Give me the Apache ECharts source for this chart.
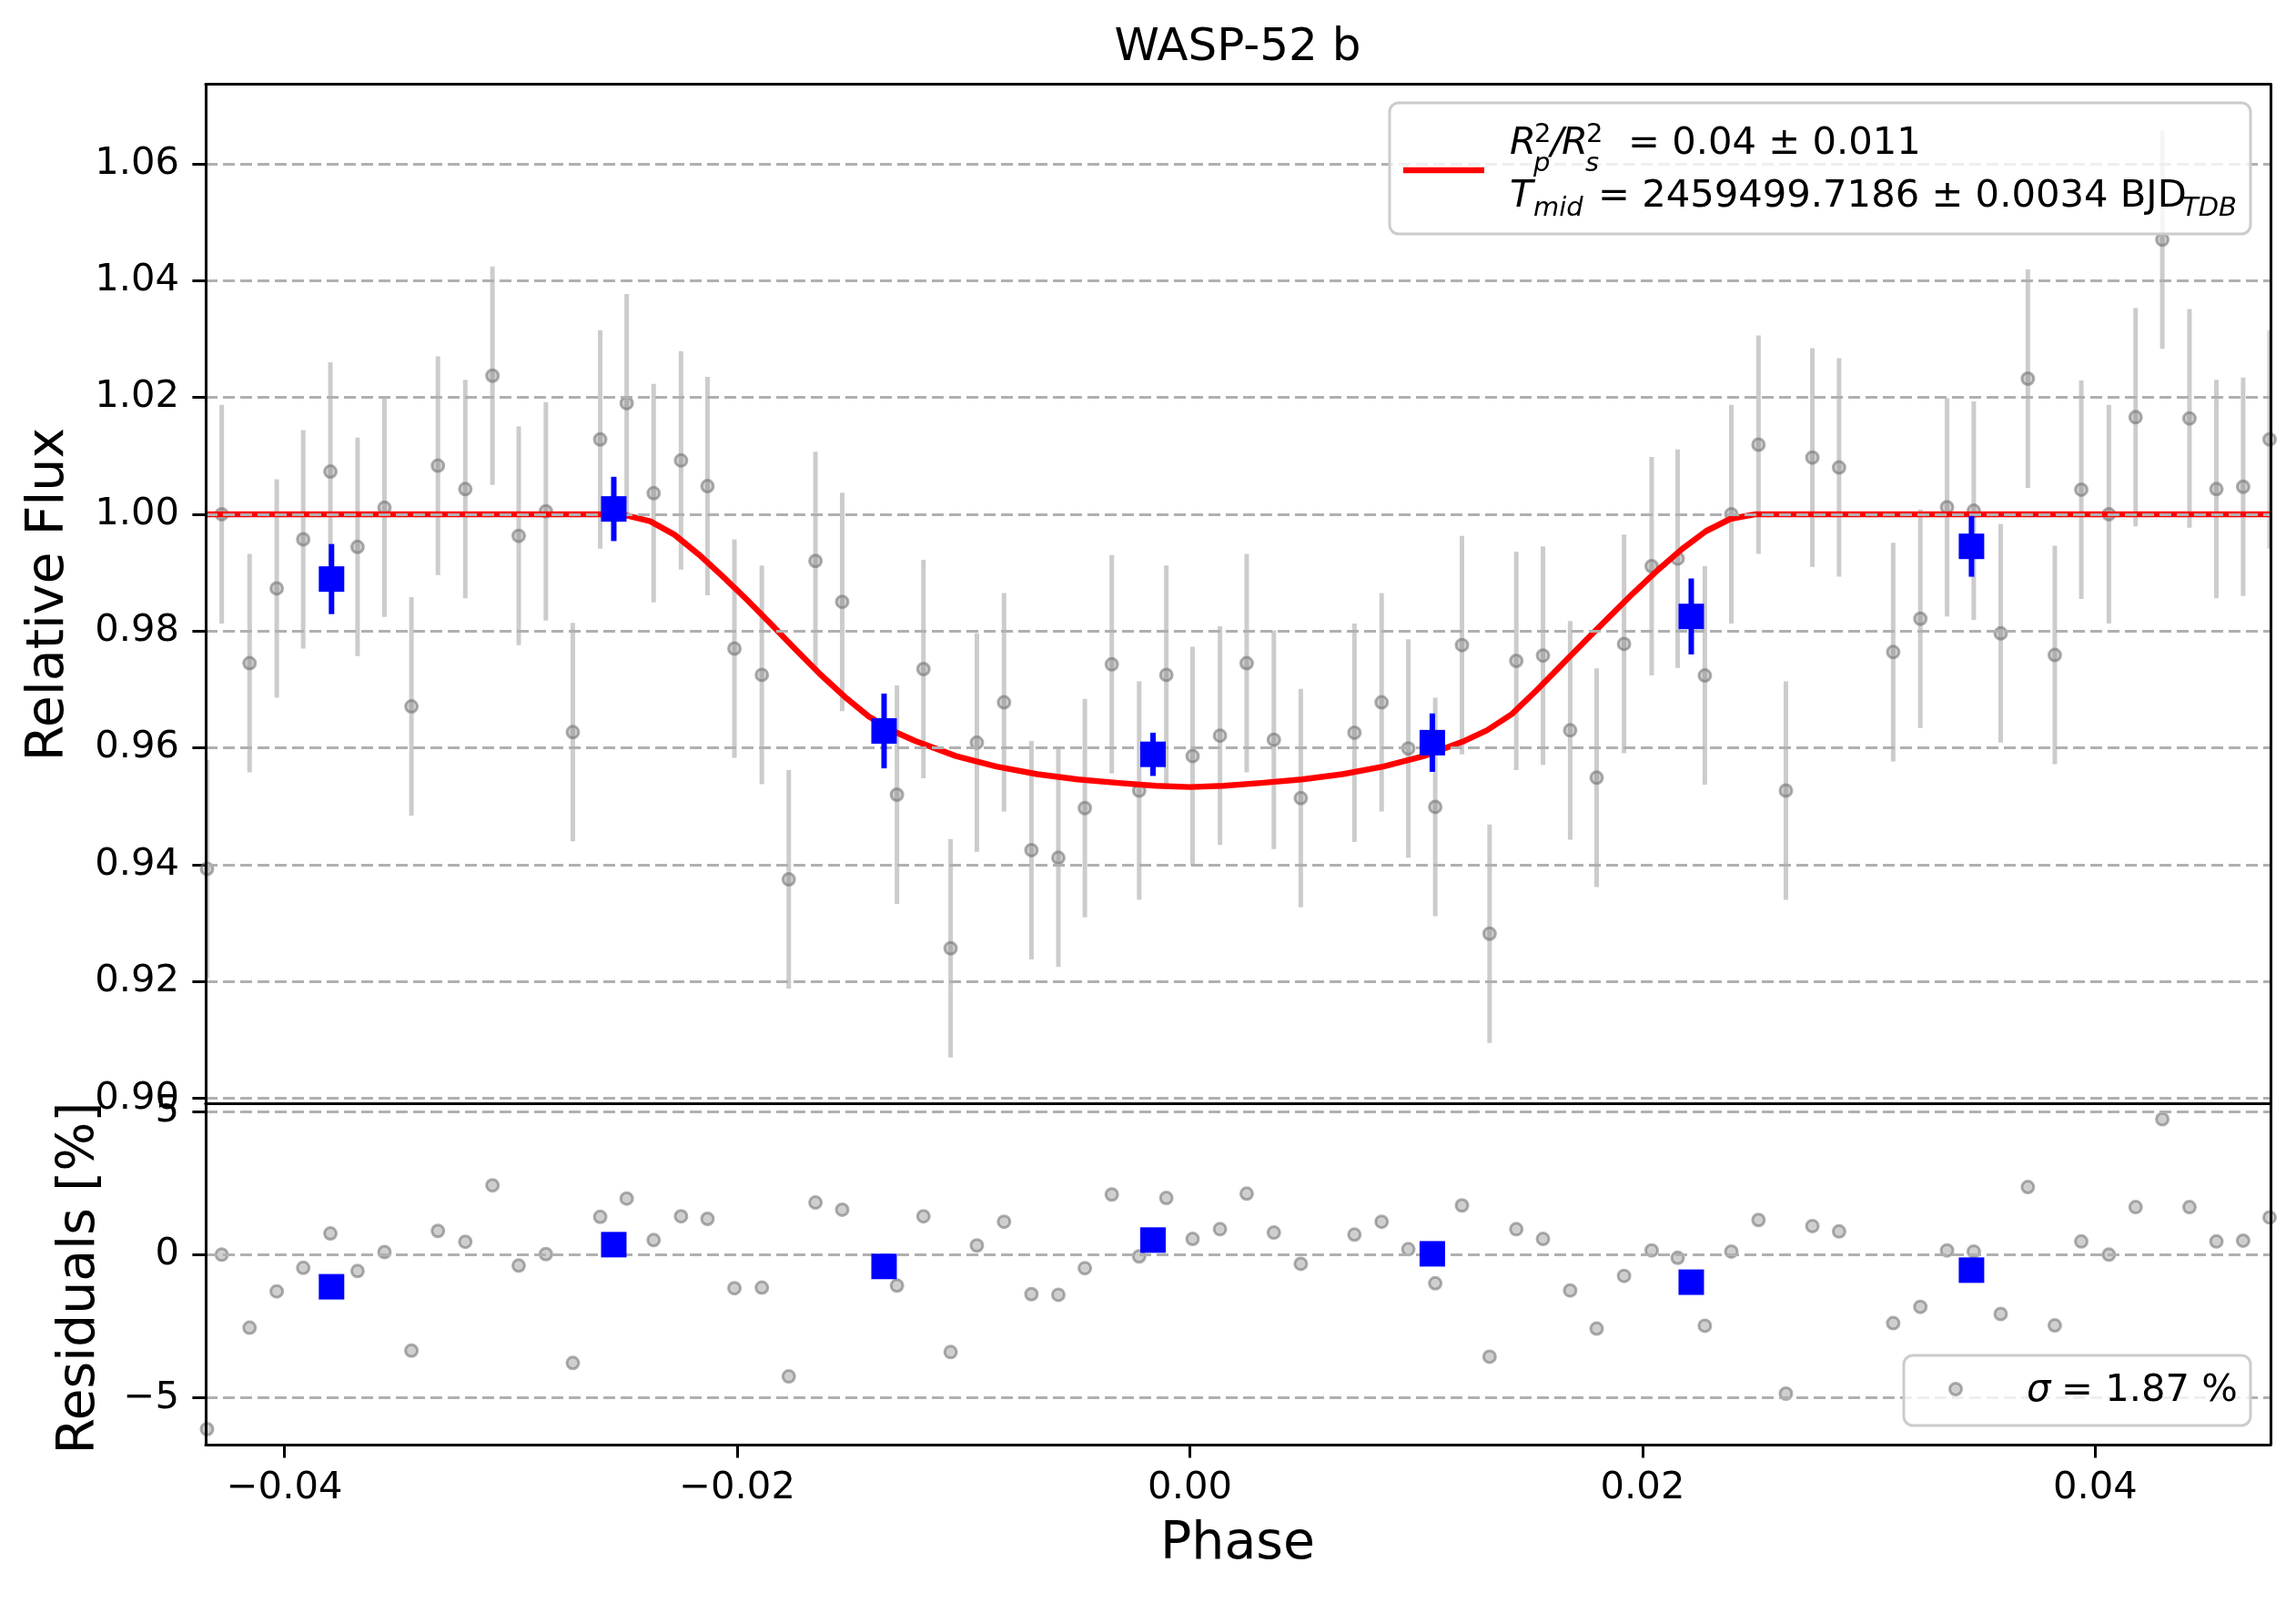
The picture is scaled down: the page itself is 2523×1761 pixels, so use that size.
<!DOCTYPE html>
<html>
<head>
<meta charset="utf-8">
<script src="https://cdn.jsdelivr.net/npm/echarts@6/dist/echarts.min.js"></script>
<style>
  html, body { margin: 0; padding: 0; background: #fff; }
  #main { width: 2523px; height: 1761px; }
</style>
</head>
<body>
<div id="main"></div>
<script>
// phase of each unbinned exposure
var phase = [-0.04342, -0.04277, -0.04154, -0.04034, -0.03917, -0.03797, -0.03677, -0.03558, -0.03439, -0.03322,
  -0.03201, -0.03081, -0.02965, -0.02845, -0.02726, -0.02605, -0.02488, -0.02369, -0.02248, -0.02131,
  -0.02012, -0.01891, -0.01772, -0.01654, -0.01536, -0.01294, -0.01177, -0.01057, -0.00941, -0.00821,
  -0.00700, -0.00581, -0.00464, -0.00345, -0.00224, -0.00104, 0.00012, 0.00133, 0.00251, 0.00371,
  0.00490, 0.00727, 0.00847, 0.00965, 0.01084, 0.01202, 0.01324, 0.01442, 0.01560, 0.01680,
  0.01797, 0.01918, 0.02040, 0.02155, 0.02275, 0.02392, 0.02512, 0.02633, 0.02750, 0.02868,
  0.03107, 0.03227, 0.03345, 0.03463, 0.03582, 0.03702, 0.03821, 0.03938, 0.04060, 0.04178,
  0.04296, 0.04416, 0.04535, 0.04653, 0.04770];
var flux = [0.9393, 1.0000, 0.9745, 0.9873, 0.9957, 1.0073, 0.9944, 1.0011, 0.9671, 1.0083,
  1.0043, 1.0237, 0.9963, 1.0005, 0.9627, 1.0128, 1.0190, 1.0036, 1.0092, 1.0048,
  0.9770, 0.9725, 0.9375, 0.9920, 0.9850, 0.9520, 0.9735, 0.9257, 0.9609, 0.9678,
  0.9425, 0.9412, 0.9497, 0.9743, 0.9527, 0.9725, 0.9586, 0.9621, 0.9745, 0.9614,
  0.9514, 0.9626, 0.9678, 0.9599, 0.9499, 0.9776, 0.9282, 0.9749, 0.9758, 0.9630,
  0.9549, 0.9778, 0.9911, 0.9924, 0.9724, 1.0000, 1.0119, 0.9527, 1.0097, 1.0080,
  0.9764, 0.9821, 1.0012, 1.0006, 0.9796, 1.0232, 0.9759, 1.0042, 1.0000, 1.0166,
  1.0470, 1.0164, 1.0043, 1.0047, 1.0128];
var fluxErr = 0.0187;
var resid = [-6.09, 0.00, -2.55, -1.28, -0.46, 0.74, -0.57, 0.09, -3.35, 0.83,
  0.45, 2.42, -0.38, 0.02, -3.78, 1.32, 1.96, 0.51, 1.34, 1.25,
  -1.17, -1.15, -4.25, 1.82, 1.57, -1.08, 1.34, -3.40, 0.32, 1.15,
  -1.38, -1.40, -0.47, 2.10, -0.06, 1.98, 0.55, 0.89, 2.13, 0.77,
  -0.32, 0.70, 1.15, 0.19, -1.00, 1.72, -3.56, 0.89, 0.55, -1.25,
  -2.58, -0.74, 0.15, -0.11, -2.48, 0.11, 1.21, -4.85, 1.00, 0.81,
  -2.39, -1.82, 0.15, 0.11, -2.07, 2.36, -2.47, 0.46, 0.00, 1.66,
  4.73, 1.66, 0.46, 0.49, 1.30];

// binned points
var binPhase = [-0.03792, -0.02545, -0.01351, -0.00163, 0.01071, 0.02215, 0.03453];
var binFlux = [0.9889, 1.0009, 0.9629, 0.9589, 0.9609, 0.9825, 0.9945];
var binErr = [0.0060, 0.0055, 0.0064, 0.0037, 0.0050, 0.0065, 0.0052];
var binResid = [-1.12, 0.35, -0.41, 0.51, 0.03, -0.96, -0.54];

// transit model
var modelPhase = [-0.04348, -0.0258, -0.02491, -0.02384, -0.02277, -0.02169, -0.02062, -0.01955, -0.01848, -0.01741,
  -0.01633, -0.01526, -0.01419, -0.01312, -0.01213, -0.01033, -0.00854, -0.00674, -0.00495, -0.00315,
  -0.0015, 0, 0.0015, 0.00315, 0.00495, 0.00674, 0.00854, 0.01033, 0.01213, 0.01312,
  0.01423, 0.0153, 0.01637, 0.01744, 0.01852, 0.01959, 0.02066, 0.02173, 0.0228, 0.02388,
  0.0250, 0.04774];
var modelFlux = [1.0, 1.0, 0.9998, 0.9988, 0.9965, 0.9931, 0.9893, 0.9853, 0.9811, 0.9768,
  0.9726, 0.9688, 0.9654, 0.9629, 0.9612, 0.9586, 0.9568, 0.9555, 0.9546, 0.9540,
  0.9535, 0.9533, 0.9535, 0.9540, 0.9546, 0.9555, 0.9568, 0.9586, 0.9612, 0.9630,
  0.9658, 0.9698, 0.9740, 0.9782, 0.9824, 0.9865, 0.9904, 0.9940, 0.9971, 0.9992,
  1.0, 1.0];

// tick labels
var phaseTicks = [-0.04, -0.02, 0.00, 0.02, 0.04];
var fluxTicks = [0.90, 0.92, 0.94, 0.96, 0.98, 1.00, 1.02, 1.04, 1.06];
var residTicks = [-5, 0, 5];

var XMIN = -0.04348, XMAX = 0.04774;
var FMIN = 0.8991, FMAX = 1.0736;
var RMIN = -6.63, RMAX = 5.27;

var FONT = 'DejaVu Sans';
var PT_FILL = 'rgba(128,128,128,0.38)';
var PT_EDGE = 'rgba(110,110,110,0.55)';

function signed(v, d) {
  var s = Math.abs(v).toFixed(d);
  return (v < -1e-9 ? '\u2212' : '') + s;
}

function errLine(color, width) {
  return function (params, api) {
    var a = api.coord([api.value(0), api.value(1)]);
    var b = api.coord([api.value(0), api.value(2)]);
    return {
      type: 'line',
      shape: { x1: a[0], y1: a[1], x2: b[0], y2: b[1] },
      style: { stroke: color, lineWidth: width }
    };
  };
}

function spineX(grid, pos) {
  return {
    type: 'value', gridIndex: grid, position: pos, min: XMIN, max: XMAX, z: 10,
    axisLine: { show: true, onZero: false, lineStyle: { color: '#000', width: 3 } },
    axisTick: { show: false }, axisLabel: { show: false }, splitLine: { show: false }
  };
}
function spineY(grid, pos, mn, mx) {
  return {
    type: 'value', gridIndex: grid, position: pos, min: mn, max: mx, z: 10,
    axisLine: { show: true, onZero: false, lineStyle: { color: '#000', width: 3 } },
    axisTick: { show: false }, axisLabel: { show: false }, splitLine: { show: false }
  };
}
function mainY(grid, mn, mx, ticks, fmt) {
  return {
    type: 'value', gridIndex: grid, position: 'left', min: mn, max: mx,
    axisLine: { show: false, onZero: false },
    axisTick: { show: true, customValues: ticks, length: 14.6, lineStyle: { color: '#000', width: 3 } },
    axisLabel: { show: true, customValues: ticks, margin: 29, color: '#000',
      fontFamily: FONT, fontSize: 41.7, formatter: fmt },
    splitLine: { show: false }
  };
}
function gridLines(ticks) {
  return {
    silent: true, symbol: 'none', animation: false,
    label: { show: false },
    lineStyle: { type: [13, 6], color: '#b0b0b0', width: 3 },
    data: ticks.map(function (v) { return { yAxis: v }; })
  };
}
function txt(x, y, s, font, extra) {
  var st = { text: s, font: font, fill: '#000', verticalAlign: 'middle' };
  if (extra) { for (var k in extra) { st[k] = extra[k]; } }
  return { type: 'text', z: 21, x: x, y: y, style: st };
}

var myChart = echarts.init(document.getElementById('main'), null, { renderer: 'canvas' });

var F = '41.7px "DejaVu Sans"', FI = 'italic 41.7px "DejaVu Sans"';
var S = '29px "DejaVu Sans"', SI = 'italic 29px "DejaVu Sans"';

var option = {
  animation: false,
  backgroundColor: '#fff',
  grid: [
    { left: 226, top: 92.5, width: 2269, height: 1120 },
    { left: 226, top: 1212.5, width: 2269, height: 374.5 }
  ],
  xAxis: [
    {
      type: 'value', gridIndex: 0, position: 'bottom', min: XMIN, max: XMAX, z: 10,
      axisLine: { show: true, onZero: false, lineStyle: { color: '#000', width: 3 } },
      axisTick: { show: false }, axisLabel: { show: false }, splitLine: { show: false }
    },
    spineX(0, 'top'),
    {
      type: 'value', gridIndex: 1, position: 'bottom', min: XMIN, max: XMAX, z: 10,
      axisLine: { show: true, onZero: false, lineStyle: { color: '#000', width: 3 } },
      axisTick: { show: true, customValues: phaseTicks, length: 14.6, lineStyle: { color: '#000', width: 3 } },
      axisLabel: { show: true, customValues: phaseTicks, margin: 27, color: '#000',
        fontFamily: FONT, fontSize: 41.7, formatter: function (v) { return signed(v, 2); } },
      splitLine: { show: false }
    },
    spineX(1, 'top')
  ],
  yAxis: [
    mainY(0, FMIN, FMAX, fluxTicks, function (v) { return v.toFixed(2); }),
    spineY(0, 'left', FMIN, FMAX),
    spineY(0, 'right', FMIN, FMAX),
    mainY(1, RMIN, RMAX, residTicks, function (v) { return signed(v, 0); }),
    spineY(1, 'left', RMIN, RMAX),
    spineY(1, 'right', RMIN, RMAX)
  ],
  series: [
    {
      // dashed horizontal grid, top panel
      type: 'line', xAxisIndex: 0, yAxisIndex: 0, z: 1, silent: true,
      data: [[XMIN, 1.0]], symbol: 'none', lineStyle: { opacity: 0 },
      markLine: gridLines(fluxTicks)
    },
    {
      type: 'line', xAxisIndex: 2, yAxisIndex: 3, z: 1, silent: true,
      data: [[XMIN, 0]], symbol: 'none', lineStyle: { opacity: 0 },
      markLine: gridLines(residTicks)
    },
    {
      name: 'err', type: 'custom', xAxisIndex: 0, yAxisIndex: 0, z: 2, clip: true,
      renderItem: errLine('#cccccc', 5),
      encode: { x: 0, y: [1, 2] },
      data: phase.map(function (p, i) { return [p, flux[i] - fluxErr, flux[i] + fluxErr]; })
    },
    {
      name: 'data', type: 'scatter', xAxisIndex: 0, yAxisIndex: 0, z: 3,
      symbol: 'circle', symbolSize: 13,
      itemStyle: { color: PT_FILL, borderColor: PT_EDGE, borderWidth: 3, opacity: 1 },
      data: phase.map(function (p, i) { return [p, flux[i]]; })
    },
    {
      name: 'model', type: 'line', xAxisIndex: 0, yAxisIndex: 0, z: 4,
      symbol: 'none', smooth: false,
      lineStyle: { color: '#ff0000', width: 6.5, join: 'round' },
      data: modelPhase.map(function (p, i) { return [p, modelFlux[i]]; })
    },
    {
      name: 'binErr', type: 'custom', xAxisIndex: 0, yAxisIndex: 0, z: 5,
      renderItem: errLine('#0000ff', 6),
      encode: { x: 0, y: [1, 2] },
      data: binPhase.map(function (p, i) { return [p, binFlux[i] - binErr[i], binFlux[i] + binErr[i]]; })
    },
    {
      name: 'bin', type: 'scatter', xAxisIndex: 0, yAxisIndex: 0, z: 6,
      symbol: 'rect', symbolSize: 28, itemStyle: { color: '#0000ff', opacity: 1 },
      data: binPhase.map(function (p, i) { return [p, binFlux[i]]; })
    },
    {
      name: 'resid', type: 'scatter', xAxisIndex: 2, yAxisIndex: 3, z: 3,
      symbol: 'circle', symbolSize: 13,
      itemStyle: { color: PT_FILL, borderColor: PT_EDGE, borderWidth: 3, opacity: 1 },
      data: phase.map(function (p, i) { return [p, resid[i]]; })
    },
    {
      name: 'binResid', type: 'scatter', xAxisIndex: 2, yAxisIndex: 3, z: 6,
      symbol: 'rect', symbolSize: 28, itemStyle: { color: '#0000ff', opacity: 1 },
      data: binPhase.map(function (p, i) { return [p, binResid[i]]; })
    }
  ],
  graphic: [
    { type: 'text', x: 1360, y: 53, style: { text: 'WASP-52 b', font: '50px "DejaVu Sans"', fill: '#000', align: 'center', verticalAlign: 'middle' } },
    { type: 'text', x: 54, y: 653, rotation: Math.PI / 2, style: { text: 'Relative Flux', font: '57px "DejaVu Sans"', fill: '#000', align: 'center', verticalAlign: 'middle' } },
    { type: 'text', x: 88, y: 1404, rotation: Math.PI / 2, style: { text: 'Residuals [%]', font: '57px "DejaVu Sans"', fill: '#000', align: 'center', verticalAlign: 'middle' } },
    { type: 'text', x: 1360, y: 1697, style: { text: 'Phase', font: '57px "DejaVu Sans"', fill: '#000', align: 'center', verticalAlign: 'middle' } },

    // fit legend
    { type: 'rect', z: 20, shape: { x: 1527, y: 113, width: 946, height: 144, r: 10 },
      style: { fill: 'rgba(255,255,255,0.8)', stroke: '#cccccc', lineWidth: 3 } },
    { type: 'line', z: 21, shape: { x1: 1542, y1: 187, x2: 1631, y2: 187 }, style: { stroke: '#ff0000', lineWidth: 6.5 } },
    txt(1659, 158, 'R', FI),
    txt(1686, 148, '2', S),
    txt(1685, 180, 'p', SI),
    txt(1704, 158, '/', FI),
    txt(1716, 158, 'R', FI),
    txt(1743, 148, '2', S),
    txt(1742, 180, 's', SI),
    txt(1789, 158, '= 0.04 \u00b1 0.011', F),
    txt(1659, 216, 'T', FI),
    txt(1685, 229, 'mid', SI),
    txt(1756, 216, '= 2459499.7186 \u00b1 0.0034 BJD', F),
    txt(2398, 229, 'TDB', SI),

    // residual scatter legend
    { type: 'rect', z: 20, shape: { x: 2092, y: 1489, width: 381, height: 77, r: 10 },
      style: { fill: 'rgba(255,255,255,0.8)', stroke: '#cccccc', lineWidth: 3 } },
    { type: 'circle', z: 21, shape: { cx: 2149, cy: 1526, r: 6.5 }, style: { fill: PT_FILL, stroke: PT_EDGE, lineWidth: 3 } },
    txt(2227, 1528, '\u03c3', FI),
    txt(2265, 1528, '= 1.87 %', F)
  ]
};
myChart.setOption(option);
</script>
</body>
</html>
